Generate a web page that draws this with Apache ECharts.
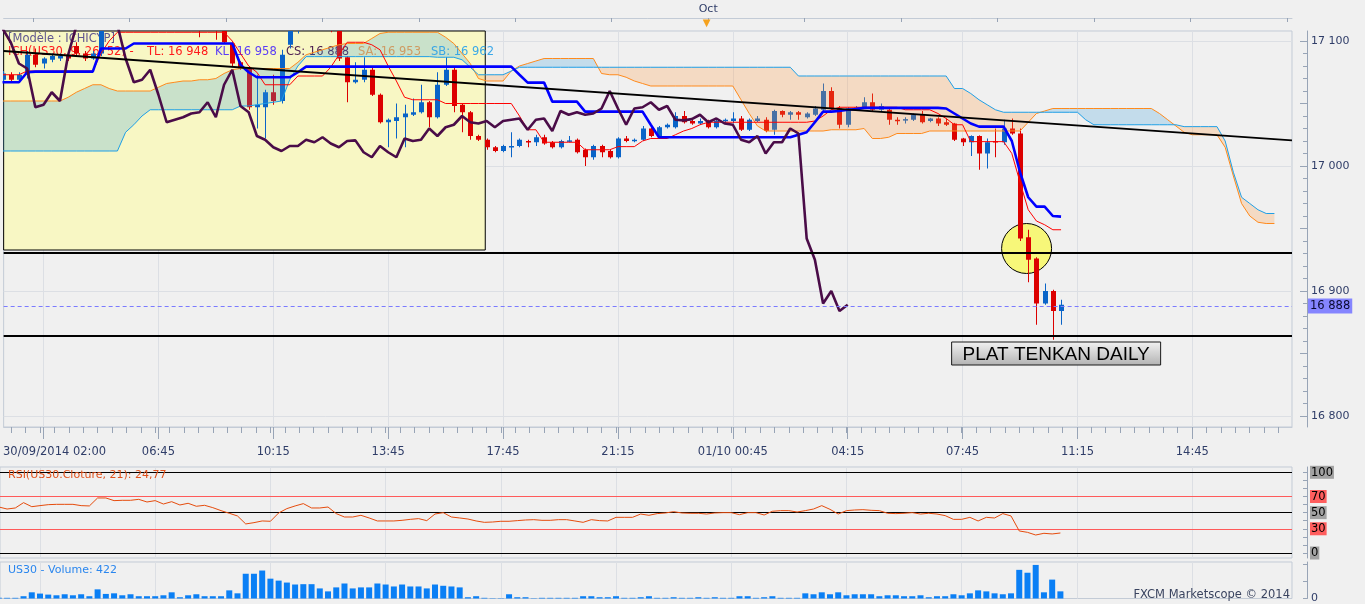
<!DOCTYPE html>
<html>
<head>
<meta charset="utf-8">
<title>US30 Ichimoku</title>
<script src="https://cdn.jsdelivr.net/npm/echarts@6.0.0/dist/echarts.min.js"></script>
<style>
html,body{margin:0;padding:0;background:#f0f0f0;overflow:hidden}
#chart{width:1365px;height:604px}
</style>
</head>
<body>
<div id="chart"></div>
<script>
// ---------- DATA (bar index 0 = 30/09/2014 02:00, 15-minute bars) ----------
const FIRST_BAR = -5;
const timeLabels = ['30/09/2014 02:00','06:45','10:15','13:45','17:45','21:15','01/10 00:45','04:15','07:45','11:15','14:45'];
const labelBars = [0,14,28,42,56,70,84,98,112,126,140];
const monthMarkBar = 81;          // 01/10 00:00
const monthMarkLabel = 'Oct';
const priceTicks = [16800,16900,17000,17100];
const rsiLevels = [0,30,50,70,100];

const opens = [
17069,17073,17069,17073,17089,17082,17085,17086,17089,17096,
17090,17086,17090,17115,17120,17125,17122,17127,17124,17126,
17123,17125,17119,17121,17117,17112,17114,17110,17098,17083,
17078,17047,17047,17059,17052,17097,17108,17116,17122,17118,
17121,17113,17087,17067,17069,17077,17057,17035,17036,17039,
17041,17043,17051,17039,17065,17077,17049,17043,17024,17021,
17015,17012,17015,17016,17020,17019,17023,17019,17015,17020,
17021,17013,17007,17016,17012,17007,17022,17020,17021,17030,
17024,17031,17031,17040,17036,17034,17036,17031,17036,17036,
17038,17029,17036,17037,17029,17044,17041,17043,17039,17041,
17045,17060,17046,17033,17045,17047,17051,17045,17045,17037,
17037,17037,17041,17036,17038,17035,17034,17022,17019,17024,
17010,17020,17019,17030,17026,16943,16926,16890,16900,16884];
const closes = [
17074,17069,17073,17089,17081,17086,17088,17088,17086,17090,
17086,17090,17115,17120,17125,17122,17127,17124,17126,17123,
17125,17119,17121,17117,17112,17114,17110,17099,17082,17078,
17047,17049,17059,17052,17089,17112,17116,17122,17118,17121,
17113,17086,17067,17069,17077,17057,17035,17037,17039,17042,
17043,17051,17039,17065,17077,17048,17043,17024,17021,17015,
17012,17016,17016,17021,17019,17023,17018,17015,17020,17020.5,
17011,17007,17016,17011,17007,17022,17020,17021,17030,17024,
17031,17033,17040,17035,17034,17036,17031,17036,17037,17038,
17029,17037,17038,17028,17044,17041,17043,17041,17042,17046,
17060,17046,17033,17046,17047,17051,17045,17048,17037,17036.5,
17037.5,17041,17035,17038,17034,17033,17021,17019,17024,17010,
17019,17019,17030,17026,16942,16925,16890,16900,16884,16889];
const lows = [
17067,17067,17068,17070,17079,17078,17083,17084,17084,17088,
17084,17085,17088,17110,17116,17118,17119,17121,17121,17120,
17120,17115,17116,17112,17103,17109,17101,17098,17080,17077,
17045,17030,17022,17049,17050,17094,17106,17112,17114,17113,
17107,17084,17051,17066,17067,17056,17034,17015,17022,17015,
17040,17042,17031,17038,17064,17043,17027,17021,17020,17013,
17011,17011,17007,17015,17015,17016,17017,17014,17014,17019,
17010,17000,17005,17007,17006,17006,17019,17019,17020,17023,
17023,17030,17030,17034,17033,17033,17030,17030,17034,17034,
17028,17028,17035,17027,17025,17039,17037,17037,17038,17040,
17044,17045,17030,17031,17044,17046,17044,17044,17033,17033,
17034,17036,17034,17035,17032,17032,17020,17016,17008,16997,
16998,17007,17017,17025,16940,16907,16873,16889,16861,16873];
const highs = [
17076,17075,17075,17092,17094,17087,17090,17090,17091,17099,
17092,17092,17118,17124,17128,17128,17130,17129,17128,17128,
17127,17127,17123,17123,17120,17117,17116,17112,17099,17084,
17080,17073,17061,17073,17093,17115,17120,17125,17126,17124,
17123,17115,17088,17083,17087,17079,17058,17038,17050,17049,
17054,17065,17052,17075,17087,17080,17050,17044,17025,17022,
17016,17017,17027,17022,17021,17025,17025,17020,17021,17024,
17022,17014,17017,17017,17013,17023,17024,17022,17032,17031,
17032,17034,17043,17044,17037,17038,17037,17037,17038,17043,
17040,17038,17040,17039,17045,17044.5,17044,17044,17043,17048,
17066,17063,17048,17047,17048,17055,17058,17050,17046,17039,
17039,17042,17044,17038.5,17039,17038,17034.5,17022.5,17024.5,17024.5,
17022,17030,17037,17038,17030,16949,16927,16906,16901,16893];

const volumes = [
40,40,40,135,365,290,230,190,250,190,
250,135,540,270,305,190,250,135,135,135,
190,365,75,190,250,135,135,135,480,305,
1460,1460,1650,1170,1055,940,825,845,845,595,
420,655,885,595,655,655,885,825,710,825,
710,710,595,825,750,710,655,75,135,40,
20,20,250,75,75,20,40,40,40,40,
40,135,135,75,75,135,40,40,75,135,
40,40,75,40,40,75,40,75,40,40,
135,135,40,75,135,40,40,40,305,250,
365,250,365,190,250,250,250,135,190,190,
135,135,190,75,135,135,250,190,305,480,
420,305,250,305,1690,1520,1980,365,1115,422];

const rsi = [
57,54.5,55.8,62.4,57.4,58.7,59.9,60.3,60.3,60.3,
58.7,58.3,68.2,68.2,64.9,65.3,65.3,66.5,63.2,64.9,
60.7,63.6,59.5,61.6,57.9,59.1,56.2,52.5,49.2,45.9,
36.0,37.6,39.7,39.3,49.6,55.0,58.3,61.2,55.8,55.8,
57.0,48.8,44.6,44.6,46.7,43.4,39.7,39.7,39.7,40.5,
41.7,42.6,40.1,48.3,50.0,44.6,43.4,42.1,39.7,38.0,
38.4,39.3,39.3,40.1,40.9,41.3,40.5,40.5,41.3,41.3,
39.7,38.0,41.3,40.1,39.7,44.2,44.2,44.2,48.3,46.7,
48.8,49.6,51.2,49.6,49.2,49.2,48.3,49.6,50.0,50.0,
47.5,50.0,50.0,47.1,51.7,52.5,52.5,50.8,52.5,54.5,
58.7,54.1,48.3,52.5,53.3,53.7,52.9,52.5,49.2,48.8,
49.2,50.0,48.3,49.2,48.3,46.3,41.7,41.7,44.2,39.7,
44.2,43.4,48.8,45.9,27.3,25.6,22.3,24.4,23.6,24.77];

const tenkan = [
17073,17073,17073,17076,17076,17076,17076,17076,17076,17076,
17076,17076,17090,17100,17107,17107,17107,17107,17107,17107,
17107,17107,17107,17107,17107,17107,17107,17107,17100,17090,
17080,17075,17065,17065,17065,17065,17072,17072,17072,17072,
17079,17089,17099,17099,17099,17097,17093,17080,17068,17055,
17053,17053,17053,17053,17050,17050,17050,17050,17050,17050,
17050,17050,17050,17040,17029,17029,17019,17019,17019,17019,
17019,17013,17013,17013,17013,17015.5,17015.5,17015.5,17020,17022,
17022,17022,17025,17028,17030,17033,17035,17035,17035,17035,
17035,17035,17035,17035,17035,17035,17035,17035,17035,17036,
17040,17045,17047,17047,17047,17047,17047,17047,17047,17047,
17045,17045,17045,17045,17042,17038,17033,17033,17019.5,17019.5,
17019.5,17019.5,17019.5,17010,16987,16965,16956,16953,16949,16949];

const kijun = [
17067,17067,17067,17075,17075.5,17075.5,17075.5,17075.5,17075.5,17075.5,
17075.5,17075.5,17094,17094,17094,17094,17098,17098,17098,17098,
17098,17098,17098,17098,17098,17098,17098,17098,17098,17081,
17075,17071,17071,17071,17071,17071,17075,17079.5,17079.5,17079.5,
17079.5,17079.5,17079.5,17079.5,17079.5,17079.5,17079.5,17079.5,17079.5,17079.5,
17079.5,17079.5,17079.5,17079.5,17079.5,17079.5,17079.5,17079.5,17079.5,17079.5,
17079.5,17079.5,17079.5,17073,17066.7,17066.7,17066.7,17051.5,17051.5,17051.5,
17051.5,17043.5,17043.5,17043.5,17043.5,17043.5,17043.5,17043.5,17043.5,17033,
17023,17023,17023,17023,17023,17023,17023,17023,17023,17023,
17023,17023,17023,17023,17023,17023,17023,17025,17027,17035,
17043.5,17043.5,17044,17045,17045.5,17046.5,17046.5,17046.5,17046.5,17046.5,
17046.5,17046.5,17046.5,17046.5,17046.5,17046,17042,17038,17034,17031.5,
17031.5,17031.5,17031.5,17020,16995,16975,16967.5,16967.5,16960,16959.5];

// Senkou spans, already displaced 26 bars ahead (bars -5 .. 150)
const senkouA = [
17052,17052,17052,17052,17052,17052,17052,17052,17055,17059,
17062,17065,17065,17062,17060,17060,17060,17060,17060,17063,
17066,17067,17068,17068,17069,17069,17070,17074,17077,17078,
17078,17078,17078,17078,17078,17078,17083,17089,17091,17093,
17095,17097,17098,17098,17098,17102,17106,17107,17107,17107,
17107,17107,17107,17107,17103,17098,17090,17082,17070,17068,
17068,17068,17076,17080,17082,17084,17086,17086,17086,17086,
17086,17086,17086,17074,17073,17073,17071,17068,17066,17064,
17064,17064,17064,17064,17064,17064,17064,17064,17064,17064,
17053,17042,17032,17028,17028,17028,17028,17028,17028,17028,
17028,17029,17029,17029,17029,17030,17022,17022,17023,17026,
17026,17026,17026,17028,17028,17028,17028,17028,17028,17028,
17028,17028,17028,17028,17028,17035,17042,17044,17046,17046,
17046,17046,17046,17046,17046,17046,17046,17046,17046,17046,
17046,17042,17037,17032,17027,17025,17025,17025,17025,17015,
16992,16970,16960,16955,16954,16954];
const senkouB = [
17012,17012,17012,17012,17012,17012,17012,17012,17012,17012,
17012,17012,17012,17012,17012,17027,17033,17040,17045,17045,
17045,17045,17045,17045,17045,17045,17045,17045,17045,17048,
17048,17049,17050,17051,17052,17069,17080,17087.5,17087.5,17087.5,
17087.5,17087.5,17087.5,17087.5,17087.5,17087.5,17087.5,17087.5,17087.5,17087.5,
17087.5,17087.5,17087.5,17087,17087,17087,17085,17079,17073,17073,
17073,17073,17076,17079,17079,17079,17079,17079,17079,17079,
17079,17079,17079,17079,17079,17079,17079,17079,17079,17079,
17079,17079,17079,17079,17079,17079,17079,17079,17079,17079,
17079,17079,17079,17079,17079,17079,17079,17072,17072,17072,
17072,17072,17072,17072,17072,17072,17072,17072,17072,17072,
17072,17072,17072,17072,17072,17072,17062,17062,17058,17053,
17049,17045,17043,17043,17043,17043,17043,17043,17043,17043,
17043,17043,17037,17033,17033,17033,17033,17033,17033,17033,
17033,17033,17033,17033,17031.5,17031.5,17031.5,17031.5,17031.5,17020,
16995,16975,16970,16965,16962,16962];

// Annotations drawn on the chart (in bar / price units)
const highlightBox = [[-4.861, 17108, 53.83, 16932.8]];
const circleMark = [[119.8, 16934]];
const noteMark = [[123.4, 16850]];
const noteText = 'PLAT TENKAN DAILY';
const trendLine = [[-4.861, 17092], [152.145, 17020.5]];
const levelLines = [16930.6, 16864];
const lastPrice = 16888;
const legendInfo = {model:'[Modèle : ICHICYP]', name:'ICH(US30, 9, 26, 52) -', TL:'16 948', KL:'16 958', CS:'16 888', SA:'16 953', SB:'16 962'};
const rsiTitle = 'RSI(US30.Cloture, 21): 24,77';
const volTitle = 'US30 - Volume: 422';

// ---------- CHART ----------
const FONT = 'DejaVu Sans';
const AXIS_TXT = '#2f3d68';
const FRAME = '#c3cbd6';
const TICK = '#98a4b6';
const GRIDLINE = '#dcdfe4';
const UP = '#0a64c8', DOWN = '#dc0000';
const XMIN = -4.861, XMAX = 152.145;
const YMIN = 16791.2, YMAX = 17108;
const BULL = 'rgba(60,160,220,0.25)';
const BEAR = 'rgba(255,152,60,0.25)';

const fmtPrice = v => String(Math.round(v)).replace(/\B(?=(\d{3})+(?!\d))/g, ' ');
const series2 = arr => arr.map((v, i) => [FIRST_BAR + i, v]);

const minorBars = []; for (let v = -3.5; v <= XMAX; v += 1.75) minorBars.push(+v.toFixed(2));
const topTicks = []; for (let v = monthMarkBar - 11.757 * 7; v <= XMAX; v += 11.757) topTicks.push(+v.toFixed(3));
const priceMinor = []; for (let v = 16800; v <= 17100; v += 10) priceMinor.push(v);
const priceMid = []; for (let v = 16800; v <= 17100; v += 50) priceMid.push(v);
const rsiMinor = []; for (let v = 0; v <= 100; v += 10) rsiMinor.push(v);

const candleData = opens.map((o, i) => [FIRST_BAR + i, o, closes[i], lows[i], highs[i]]);
const chikouData = closes.map((c, i) => [FIRST_BAR + i - 26, c]).filter(d => d[0] >= FIRST_BAR - 1);

function candleRender(params, api) {
  const k = api.value(0), o = api.value(1), c = api.value(2), l = api.value(3), h = api.value(4);
  const col = c >= o ? UP : DOWN;
  const pO = api.coord([k, o]), pC = api.coord([k, c]), pL = api.coord([k, l]), pH = api.coord([k, h]);
  const x = Math.round(pO[0]) + 0.5;
  const top = Math.min(pO[1], pC[1]), bot = Math.max(pO[1], pC[1]);
  return {type: 'group', children: [
    {type: 'line', shape: {x1: x, y1: pH[1], x2: x, y2: pL[1]}, style: {stroke: col, lineWidth: 1}},
    {type: 'rect', shape: {x: x - 2.5, y: top, width: 5, height: Math.max(bot - top, 1.5)}, style: {fill: col}}
  ]};
}

function cloudRender(params, api) {
  const children = [];
  let sign = 0, upper = [], lower = [];
  const flush = () => {
    if (upper.length > 1 && sign !== 0) {
      children.push({type: 'polygon', shape: {points: upper.concat(lower.slice().reverse())},
        style: {fill: sign > 0 ? BULL : BEAR}});
    }
    upper = []; lower = [];
  };
  for (let i = 0; i < senkouA.length; i++) {
    const k = FIRST_BAR + i, a = senkouA[i], b = senkouB[i], d = a - b;
    const s = d > 0 ? 1 : (d < 0 ? -1 : 0);
    if (i > 0) {
      const pa = senkouA[i - 1], pb = senkouB[i - 1], pd = pa - pb;
      if (pd * d < 0) {
        const t = pd / (pd - d);
        const pm = api.coord([k - 1 + t, pa + (a - pa) * t]);
        upper.push(pm); lower.push(pm); flush();
        sign = s; upper.push(pm); lower.push(pm);
      } else if (s !== 0 && sign !== 0 && s !== sign) {
        flush(); sign = s;
        upper.push(api.coord([k - 1, pa])); lower.push(api.coord([k - 1, pb]));
      } else if (sign === 0) sign = s;
    } else sign = s;
    upper.push(api.coord([k, a])); lower.push(api.coord([k, b]));
  }
  flush();
  return {type: 'group', children};
}

const NOZERO = {onZero: false};
const hiddenAxis = (gi) => ({gridIndex: gi, type: 'value', min: XMIN, max: XMAX, show: false,
  axisLine: {show: false, onZero: false}, splitLine: {show: false}});
const vGridLines = labelBars.map(v => ({xAxis: v}));

const option = {
  backgroundColor: '#f0f0f0',
  animation: false,
  textStyle: {fontFamily: FONT},
  grid: [
    {left: 0, top: 31, width: 1292, height: 396, show: true, borderColor: FRAME, borderWidth: 1},
    {left: 0, top: 467, width: 1292, height: 91, show: true, borderColor: FRAME, borderWidth: 1},
    {left: 0, top: 562, width: 1292, height: 37.3, show: true, borderColor: FRAME, borderWidth: 1},
    {left: 0, top: 31, width: 1292, height: 396, show: false}
  ],
  xAxis: [
    {gridIndex: 0, type: 'value', min: XMIN, max: XMAX, position: 'bottom',
      axisLine: {show: true, onZero: false, lineStyle: {color: FRAME}},
      axisTick: {show: true, customValues: labelBars, length: 12, lineStyle: {color: TICK}},
      axisLabel: {show: true, customValues: labelBars, margin: 19, color: AXIS_TXT, fontFamily: FONT, fontSize: 11.5,
        formatter: (v) => { const i = labelBars.indexOf(Math.round(v)); if (i < 0) return ''; return i === 0 ? '{f|' + timeLabels[0] + '}' : timeLabels[i]; },
        rich: {f: {padding: [0, 0, 0, 22], color: AXIS_TXT, fontFamily: FONT, fontSize: 11.5}}},
      splitLine: {show: false}},
    {gridIndex: 0, type: 'value', min: XMIN, max: XMAX, position: 'top', offset: 13,
      axisLine: {show: true, onZero: false, lineStyle: {color: FRAME}},
      axisTick: {show: true, inside: true, customValues: topTicks, length: 4, lineStyle: {color: TICK}},
      axisLabel: {show: true, customValues: [monthMarkBar], formatter: () => monthMarkLabel, margin: 3, color: AXIS_TXT, fontFamily: FONT, fontSize: 11},
      splitLine: {show: false}},
    hiddenAxis(1),
    hiddenAxis(2),
    {gridIndex: 3, type: 'value', min: XMIN, max: XMAX, position: 'bottom',
      axisLine: {show: false, onZero: false},
      axisTick: {show: true, customValues: minorBars, length: 6, lineStyle: {color: TICK}},
      axisLabel: {show: false}, splitLine: {show: false}},
    {gridIndex: 3, type: 'value', min: XMIN, max: XMAX, position: 'top', offset: 13,
      axisLine: {show: false, onZero: false}, axisTick: {show: false},
      axisLabel: {show: true, inside: true, customValues: [monthMarkBar], formatter: () => '▼', margin: 0, color: '#f5a21e', fontSize: 10},
      splitLine: {show: false}}
  ],
  yAxis: [
    {gridIndex: 0, type: 'value', position: 'right', offset: 15, min: YMIN, max: YMAX,
      axisLine: {show: true, onZero: false, lineStyle: {color: TICK}},
      axisTick: {show: true, inside: true, length: 4, customValues: priceMinor, lineStyle: {color: TICK}},
      axisLabel: {show: true, customValues: priceTicks, formatter: fmtPrice, margin: 4, color: AXIS_TXT, fontFamily: FONT, fontSize: 11},
      splitLine: {show: false}},
    {gridIndex: 1, type: 'value', position: 'right', offset: 15, min: -6.2, max: 106.57,
      axisLine: {show: true, onZero: false, lineStyle: {color: TICK}},
      axisTick: {show: true, inside: true, length: 4, customValues: rsiMinor, lineStyle: {color: TICK}},
      axisLabel: {show: true, customValues: rsiLevels, margin: 3, fontFamily: FONT, fontSize: 11.5,
        formatter: v => (v === 70 || v === 30) ? '{r|' + v + '}' : '{g|' + v + '}',
        rich: {g: {backgroundColor: '#a2a2a2', color: '#000', padding: [1, 1, 0, 1], fontFamily: FONT, fontSize: 11.5},
               r: {backgroundColor: '#ff5e5e', color: '#000', padding: [1, 1, 0, 1], fontFamily: FONT, fontSize: 11.5}}},
      splitLine: {show: false}},
    {gridIndex: 2, type: 'value', position: 'right', offset: 15, min: 0, max: 2153,
      axisLine: {show: true, onZero: false, lineStyle: {color: TICK}},
      axisTick: {show: true, inside: true, length: 4, customValues: [0, 1000, 2000], lineStyle: {color: TICK}},
      axisLabel: {show: true, customValues: [0], formatter: () => '0', margin: 4, color: AXIS_TXT, fontFamily: FONT, fontSize: 11},
      splitLine: {show: false}},
    {gridIndex: 3, type: 'value', position: 'right', offset: 15, min: YMIN, max: YMAX,
      axisLine: {show: false, onZero: false},
      axisTick: {show: true, inside: true, length: 7, customValues: priceMid, lineStyle: {color: TICK}},
      axisLabel: {show: false}, splitLine: {show: false}}
  ],
  series: [
    {name: 'grid', type: 'line', xAxisIndex: 0, yAxisIndex: 0, data: [[XMIN, YMIN]], symbol: 'none', silent: true,
      lineStyle: {opacity: 0}, z: 0,
      markLine: {silent: true, z: 0, symbol: ['none', 'none'], label: {show: false},
        lineStyle: {color: GRIDLINE, width: 1, type: 'solid'},
        data: vGridLines.concat(priceTicks.map(v => ({yAxis: v})))}},
    {name: 'highlight', type: 'custom', xAxisIndex: 0, yAxisIndex: 0, z: 1, silent: true,
      data: highlightBox, encode: {x: [0, 2], y: [1, 3]},
      renderItem: (params, api) => {
        const p1 = api.coord([api.value(0), api.value(1)]);
        const p2 = api.coord([api.value(2), api.value(3)]);
        return {type: 'rect', shape: {x: p1[0], y: p1[1], width: p2[0] - p1[0], height: p2[1] - p1[1]},
          style: {fill: '#f8f7c4', stroke: '#000', lineWidth: 1}};
      }},
    {name: 'circle', type: 'custom', xAxisIndex: 0, yAxisIndex: 0, z: 2, silent: true,
      data: circleMark, encode: {x: 0, y: 1},
      renderItem: (params, api) => {
        const p = api.coord([api.value(0), api.value(1)]);
        return {type: 'circle', shape: {cx: p[0], cy: p[1], r: 25}, style: {fill: '#f7f779', stroke: '#000', lineWidth: 1}};
      }},
    {name: 'US30', type: 'custom', xAxisIndex: 0, yAxisIndex: 0, z: 3, clip: true, silent: true,
      data: candleData, encode: {x: 0, y: [1, 2, 3, 4]}, renderItem: candleRender},
    {name: 'cloud', type: 'custom', xAxisIndex: 0, yAxisIndex: 0, z: 4, silent: true, clip: true,
      data: [[0, senkouA[0]]], encode: {x: 0, y: 1}, renderItem: cloudRender},
    {name: 'SA', type: 'line', xAxisIndex: 0, yAxisIndex: 0, z: 5, data: series2(senkouA), showSymbol: false, symbol: 'none',
      lineStyle: {color: '#ff8a1c', width: 1}},
    {name: 'SB', type: 'line', xAxisIndex: 0, yAxisIndex: 0, z: 5, data: series2(senkouB), showSymbol: false, symbol: 'none',
      lineStyle: {color: '#1e9fe6', width: 1}},
    {name: 'TL', type: 'line', xAxisIndex: 0, yAxisIndex: 0, z: 5, data: series2(tenkan), showSymbol: false, symbol: 'none',
      lineStyle: {color: '#ff0000', width: 1}},
    {name: 'KL', type: 'line', xAxisIndex: 0, yAxisIndex: 0, z: 5, data: series2(kijun), showSymbol: false, symbol: 'none',
      lineStyle: {color: '#0000ff', width: 2.6}},
    {name: 'CS', type: 'line', xAxisIndex: 0, yAxisIndex: 0, z: 5, data: chikouData, showSymbol: false, symbol: 'none',
      lineStyle: {color: '#4a0c48', width: 2.6}},
    {name: 'levels', type: 'line', xAxisIndex: 0, yAxisIndex: 0, data: [[XMIN, YMIN]], symbol: 'none', silent: true,
      lineStyle: {opacity: 0}, z: 6,
      markLine: {silent: true, z: 6, symbol: ['none', 'none'], label: {show: false},
        lineStyle: {color: '#000', width: 2, type: 'solid'},
        data: [
          [{coord: trendLine[0]}, {coord: trendLine[1]}],
          {yAxis: levelLines[0]},
          {yAxis: levelLines[1]},
          {yAxis: lastPrice, lineStyle: {color: '#7b7bff', width: 1, type: [4, 3]},
            label: {show: true, position: 'end', distance: 16, formatter: () => fmtPrice(lastPrice),
              backgroundColor: '#8585ff', color: '#0a0a30', padding: [2, 2, 1, 2], fontFamily: FONT, fontSize: 11.5}}
        ]}},
    {name: 'note', type: 'custom', xAxisIndex: 0, yAxisIndex: 0, z: 7, silent: true,
      data: noteMark, encode: {x: 0, y: 1},
      renderItem: (params, api) => {
        const p = api.coord([api.value(0), api.value(1)]);
        return {type: 'group', children: [
          {type: 'rect', shape: {x: p[0] - 104.5, y: p[1] - 11.5, width: 209, height: 23},
            style: {fill: new echarts.graphic.LinearGradient(0, 0, 0, 1, [{offset: 0, color: '#f2f2f2'}, {offset: 1, color: '#b2b2b2'}]),
              stroke: '#1a1a1a', lineWidth: 1}},
          {type: 'text', style: {text: noteText, x: p[0], y: p[1] + 1, align: 'center', verticalAlign: 'middle',
            fontFamily: 'Liberation Sans', fontSize: 19, fill: '#000'}}
        ]};
      }},
    {name: 'RSI', type: 'line', xAxisIndex: 2, yAxisIndex: 1, data: series2(rsi), showSymbol: false, symbol: 'none', z: 3,
      lineStyle: {color: '#e54b0c', width: 1},
      markLine: {silent: true, z: 1, symbol: ['none', 'none'], label: {show: false},
        data: vGridLines.map(d => Object.assign({lineStyle: {color: GRIDLINE, width: 1, type: 'solid'}}, d)).concat(
          rsiLevels.map(v => ({yAxis: v, lineStyle: {color: (v === 70 || v === 30) ? '#ff5a5a' : '#000', width: 1, type: 'solid'}})))}},
    {name: 'Volume', type: 'bar', xAxisIndex: 3, yAxisIndex: 2, data: series2(volumes), barWidth: 6, z: 3,
      itemStyle: {color: '#0a7ff5'},
      markLine: {silent: true, z: 1, symbol: ['none', 'none'], label: {show: false},
        lineStyle: {color: GRIDLINE, width: 1, type: 'solid'}, data: vGridLines}}
  ],
  graphic: [
    {type: 'text', x: 8, y: 39, z: 2, silent: true, style: {text: legendInfo.model, fill: '#5f5690', fontFamily: FONT, fontSize: 11.5, verticalAlign: 'middle'}},
    {type: 'text', x: 8, y: 52, z: 2, silent: true, style: {text: legendInfo.name, fill: '#ff1a1a', fontFamily: FONT, fontSize: 11.5, verticalAlign: 'middle'}},
    {type: 'text', x: 147, y: 52, z: 2, silent: true, style: {text: 'TL: ' + legendInfo.TL, fill: '#ff1a1a', fontFamily: FONT, fontSize: 11.5, verticalAlign: 'middle'}},
    {type: 'text', x: 215, y: 52, z: 2, silent: true, style: {text: 'KL: ' + legendInfo.KL, fill: '#5b3df5', fontFamily: FONT, fontSize: 11.5, verticalAlign: 'middle'}},
    {type: 'text', x: 286, y: 52, z: 2, silent: true, style: {text: 'CS: ' + legendInfo.CS, fill: '#4b1e50', fontFamily: FONT, fontSize: 11.5, verticalAlign: 'middle'}},
    {type: 'text', x: 358, y: 52, z: 2, silent: true, style: {text: 'SA: ' + legendInfo.SA, fill: '#ff9a3c', fontFamily: FONT, fontSize: 11.5, verticalAlign: 'middle'}},
    {type: 'text', x: 431, y: 52, z: 2, silent: true, style: {text: 'SB: ' + legendInfo.SB, fill: '#3aa8e8', fontFamily: FONT, fontSize: 11.5, verticalAlign: 'middle'}},
    {type: 'text', x: 8, y: 475, z: 5, silent: true, style: {text: rsiTitle, fill: '#e0501a', fontFamily: FONT, fontSize: 11, verticalAlign: 'middle'}},
    {type: 'text', x: 8, y: 570, z: 5, silent: true, style: {text: volTitle, fill: '#2a86ee', fontFamily: FONT, fontSize: 11, verticalAlign: 'middle'}},
    {type: 'text', x: 1290, y: 595, z: 5, silent: true, style: {text: 'FXCM Marketscope © 2014', fill: '#3a4460', fontFamily: FONT, fontSize: 11.5, align: 'right', verticalAlign: 'middle'}}
  ]
};

const chart = echarts.init(document.getElementById('chart'), null, {renderer: 'canvas'});
chart.setOption(option);
</script>
</body>
</html>
